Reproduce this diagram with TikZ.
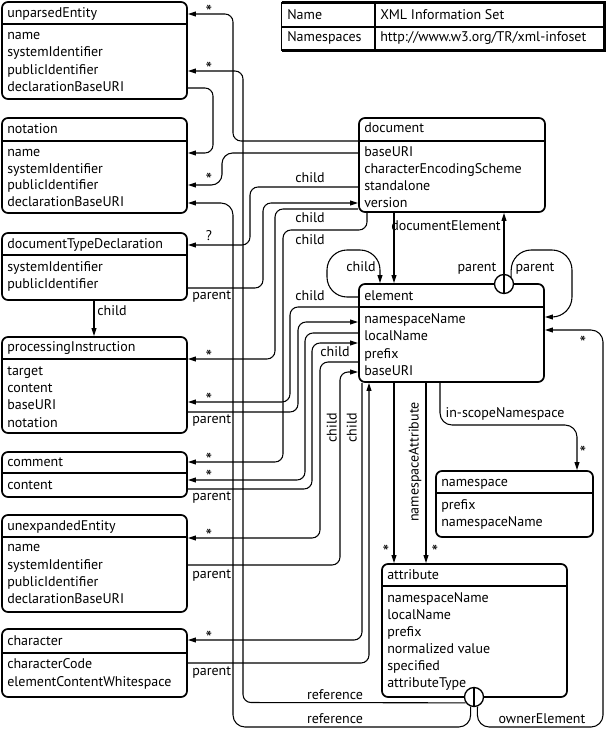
\documentclass[tikz,border=0pt]{standalone}
\usepackage{fontspec}
\setmainfont{PT Sans}
\usetikzlibrary{arrows.meta,fit}
\tikzset{
 box/.style={draw, line width=1.3pt, rounded corners=4.5pt, inner sep=0pt, fill=white},
 sepl/.style={line width=1pt},
 txt/.style={anchor=west, inner sep=0pt, text height=7.6pt, text depth=2.2pt},
 lab/.style={inner sep=0pt, text height=7.6pt, text depth=2.2pt},
 star/.style={inner sep=0pt, font=\fontsize{14}{14}\selectfont},
 conn/.style={draw, line width=0.8pt, rounded corners=6pt},
 arr/.style={conn, -{Triangle[length=6pt,width=3.6pt]}},
 xorc/.style={circle, draw, fill=white, line width=1pt, minimum size=14.25pt, inner sep=0pt},
}
\newcommand\umlbox[6]{%
 \node[box, fit={(#2,#3) (#4,#5)}] (#1) {};
 \draw[sepl] (#1.west |- 0,#6) -- (#1.east |- 0,#6);
}
\begin{document}
\begin{tikzpicture}[x=0.75pt,y=-0.75pt,font=\fontsize{10.5}{12}\selectfont]
\useasboundingbox (0,0) rectangle (607,731);

% ---- info table
\node[fit={(282,3) (604,50)}, inner sep=0pt] (tbl) {};
\draw[line width=1pt] (tbl.north west) rectangle (tbl.south east);
\draw[line width=2.4pt] (tbl.north west) -- (tbl.north east) -- (tbl.south east) -- (tbl.south west);
\draw[line width=0.8pt] (tbl.west |- 0,27) -- (tbl.east |- 0,27);
\draw[line width=0.8pt] (tbl.north -| 375,0) -- (tbl.south -| 375,0);
\node[txt] (t1) at (287,16) {Name};
\node[txt] (t2) at (380,16) {XML Information Set};
\node[txt] (t3) at (287,38) {Namespaces};
\node[txt] (t4) at (380,38) {http://www.w3.org/TR/xml-infoset};

% ---- boxes
\umlbox{unp}{2}{2}{187}{99}{24}
\node[txt] (unp-t) at (7,14) {unparsedEntity};
\foreach \t/\y [count=\i] in {name/36,systemIdentifier/53,publicIdentifier/71,declarationBaseURI/88}
 \node[txt] (unp-\i) at (7,\y) {\t};

\umlbox{nota}{2}{118}{187}{213}{141}
\node[txt] (nota-t) at (7,130) {notation};
\foreach \t/\y [count=\i] in {name/153,systemIdentifier/170,publicIdentifier/186,declarationBaseURI/203}
 \node[txt] (nota-\i) at (7,\y) {\t};

\umlbox{dtd}{2}{233}{187}{300}{255}
\node[txt] (dtd-t) at (7,245) {documentTypeDeclaration};
\foreach \t/\y [count=\i] in {systemIdentifier/268,publicIdentifier/285}
 \node[txt] (dtd-\i) at (7,\y) {\t};

\umlbox{pi}{2}{337}{187}{433}{359}
\node[txt] (pi-t) at (7,348) {processingInstruction};
\foreach \t/\y [count=\i] in {target/372,content/389,baseURI/406,notation/424}
 \node[txt] (pi-\i) at (7,\y) {\t};

\umlbox{cmt}{2}{452}{187}{497}{473}
\node[txt] (cmt-t) at (7,463) {comment};
\node[txt] (cmt-1) at (7,486) {content};

\umlbox{unx}{2}{515}{187}{612}{537}
\node[txt] (unx-t) at (7,527) {unexpandedEntity};
\foreach \t/\y [count=\i] in {name/548,systemIdentifier/566,publicIdentifier/583,declarationBaseURI/600}
 \node[txt] (unx-\i) at (7,\y) {\t};

\umlbox{chr}{2}{629}{187}{697}{653}
\node[txt] (chr-t) at (7,642) {character};
\foreach \t/\y [count=\i] in {characterCode/665,elementContentWhitespace/683}
 \node[txt] (chr-\i) at (7,\y) {\t};

\umlbox{doc}{359}{118}{545}{212}{141}
\node[txt] (doc-t) at (364,129) {document};
\foreach \t/\y [count=\i] in {baseURI/153,characterEncodingScheme/170,standalone/187,version/204}
 \node[txt] (doc-\i) at (364,\y) {\t};

\umlbox{elm}{359}{284}{544}{382}{307}
\node[txt] (elm-t) at (364,297) {element};
\foreach \t/\y [count=\i] in {namespaceName/320,localName/337,prefix/355,baseURI/372}
 \node[txt] (elm-\i) at (364,\y) {\t};

\umlbox{ns}{436}{471}{593}{537}{493}
\node[txt] (ns-t) at (441,483) {namespace};
\foreach \t/\y [count=\i] in {prefix/506,namespaceName/523}
 \node[txt] (ns-\i) at (441,\y) {\t};

\umlbox{att}{382}{564}{567}{697}{586}
\node[txt] (att-t) at (387,576) {attribute};
\foreach \t/\y [count=\i] in {namespaceName/599,localName/616,prefix/633,normalized value/650,specified/667,attributeType/684}
 \node[txt] (att-\i) at (387,\y) {\t};

% ---- xor circles
\node[xorc] (ec) at (504,284) {};
\draw[line width=1pt] (ec.north) -- (ec.south);
\node[xorc] (ac) at (474,697) {};
\draw[line width=1pt] (ac.north) -- (ac.south);

% ---- end points
\coordinate (dA) at (doc.west |- 0,141);
\coordinate (uH) at (unp.east |- 0,14);
\coordinate (uP) at (unp.east |- 0,71);
\coordinate (uD) at (unp.east |- 0,88);
\coordinate (nN) at (nota.east |- 0,153);
\coordinate (dB) at (doc.west |- 0,153);
\coordinate (nP) at (nota.east |- 0,185);
\coordinate (nD) at (nota.east |- 0,203);
\coordinate (dS) at (doc.west |- 0,187);
\coordinate (tH) at (dtd.east |- 0,245);
\coordinate (tP) at (dtd.east |- 0,288);
\coordinate (dV) at (doc.west |- 0,203);
\coordinate (tB) at (dtd.south -| 94,0);
\coordinate (pT) at (pi.north -| 94,0);
\coordinate (dC1) at (doc.west |- 0,209);
\coordinate (pH) at (pi.east |- 0,359);
\coordinate (dC2) at (doc.south -| 367,0);
\coordinate (cH) at (cmt.east |- 0,462);
\coordinate (eA) at (elm.west |- 0,307);
\coordinate (pB) at (pi.east |- 0,402);
\coordinate (pP) at (pi.east |- 0,412);
\coordinate (eB) at (elm.west |- 0,322);
\coordinate (eC) at (elm.west |- 0,333);
\coordinate (cC) at (cmt.east |- 0,480);
\coordinate (cP) at (cmt.east |- 0,489);
\coordinate (eD) at (elm.west |- 0,343);
\coordinate (eE) at (elm.west |- 0,362);
\coordinate (xH) at (unx.east |- 0,538);
\coordinate (xP) at (unx.east |- 0,565);
\coordinate (eF) at (elm.west |- 0,372);
\coordinate (eG) at (elm.south -| 362,0);
\coordinate (hH) at (chr.east |- 0,640);
\coordinate (hP) at (chr.east |- 0,663);
\coordinate (eH) at (elm.south -| 369,0);
\coordinate (eL) at (elm.west |- 0,297);
\coordinate (eT) at (elm.north -| 380,0);
\coordinate (dE) at (doc.south -| 394,0);
\coordinate (eTE) at (elm.north -| 394,0);
\coordinate (dP) at (doc.south -| 504,0);
\coordinate (eR1) at (elm.east |- 0,317);
\coordinate (eR2) at (elm.east |- 0,330);
\coordinate (eN) at (elm.south -| 440,0);
\coordinate (nsT) at (ns.north -| 577,0);
\coordinate (eS1) at (elm.south -| 394,0);
\coordinate (aT1) at (att.north -| 394,0);
\coordinate (eS2) at (elm.south -| 426,0);
\coordinate (aT2) at (att.north -| 426,0);

% ---- connectors
\draw[arr] (dA) -- (233,141) -- (233,14) -- (uH);
\draw[arr] (ac.215) -- (243,702.5) -- (243,71) -- (uP);
\draw[arr] (uD) -- (213,88) -- (213,153) -- (nN);
\draw[arr, rounded corners=8pt] (dB) -- (222,153) -- (222,185) -- (nP);
\draw[arr, rounded corners=9pt] (ac.250) -- (470.75,727) -- (233,727) -- (233,203) -- (nD);
\draw[arr] (dS) -- (250,187) -- (250,245) -- (tH);
\draw[arr] (tP) -- (263,288) -- (263,203) -- (dV);
\draw[arr] (tB) -- (pT);
\draw[arr] (dC1) -- (275,209) -- (275,359) -- (pH);
\draw[arr] (dC2) -- (367,230) -- (283,230) -- (283,462) -- (cH);
\draw[arr] (eA) -- (290,307) -- (290,402) -- (pB);
\draw[arr] (pP) -- (298,412) -- (298,322) -- (eB);
\draw[arr] (eC) -- (305,333) -- (305,480) -- (cC);
\draw[arr] (cP) -- (312,489) -- (312,343) -- (eD);
\draw[arr] (eE) -- (320,362) -- (320,538) -- (xH);
\draw[arr] (xP) -- (340,565) -- (340,372) -- (eF);
\draw[arr] (eG) -- (362,640) -- (hH);
\draw[arr] (hP) -- (369,663) -- (eH);
\draw[arr, rounded corners=15pt] (eL) -- (327,297) -- (327,250) -- (380,250) -- (eT);
\draw[arr] (dE) -- (eTE);
\draw[arr] (ec.north) -- (dP);
\draw[arr, rounded corners=15pt] (ec.45) -- (ec.45 |- 0,250) -- (572,250) -- (572,317) -- (eR1);
\draw[arr, rounded corners=9pt] (ac.290) -- (477.25,727) -- (603,727) -- (603,330) -- (eR2);
\draw[arr, rounded corners=9pt] (eN) -- (440,425) -- (577,425) -- (nsT);
\draw[arr] (eS1) -- (aT1);
\draw[arr] (eS2) -- (aT2);

% ---- multiplicities
\foreach \x/\y [count=\i] in {209/12,209/69,209/180,209/357,209/400,209/460,209/477,209/536,209/638,583/343,583/453,386/552,435/552}
 \node[star] (s\i) at (\x,\y) {*};
\node[lab] (q1) at (209,237) {?};

% ---- labels
\foreach \y [count=\i] in {296,420,497,575,672}
 \node[lab, anchor=west] (pl\i) at (192,\y) {parent};
\foreach \x/\y [count=\i] in {310/179,310/219,310/241,310/297,335/353,361/268,112/312}
 \node[lab] (cl\i) at (\x,\y) {child};
\node[lab, rotate=90] (cr1) at (333,428) {child};
\node[lab, rotate=90] (cr2) at (353,428) {child};
\node[lab] (de) at (446,227) {documentElement};
\node[lab] (ep1) at (477,268) {parent};
\node[lab] (ep2) at (535,268) {parent};
\node[lab] (isn) at (505,414) {in-scopeNamespace};
\node[lab, rotate=90] (nsa) at (415,462) {namespaceAttribute};
\node[lab] (ref1) at (335,696) {reference};
\node[lab] (ref2) at (335,720) {reference};
\node[lab] (own) at (542,720) {ownerElement};
\end{tikzpicture}
\end{document}
